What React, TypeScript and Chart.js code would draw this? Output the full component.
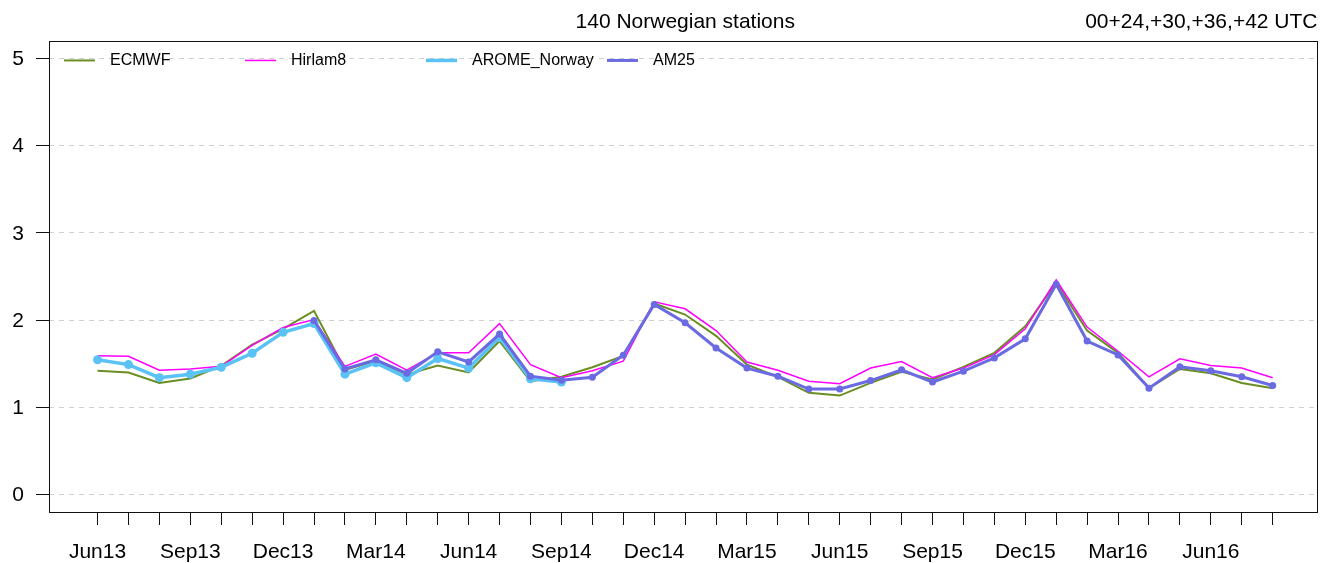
import React, { useEffect, useRef } from 'react';
import { Chart, registerables } from 'chart.js';

Chart.register(...registerables);

const months = [
  'Jun13', 'Jul13', 'Aug13', 'Sep13', 'Oct13', 'Nov13', 'Dec13', 'Jan14', 'Feb14', 'Mar14',
  'Apr14', 'May14', 'Jun14', 'Jul14', 'Aug14', 'Sep14', 'Oct14', 'Nov14', 'Dec14', 'Jan15',
  'Feb15', 'Mar15', 'Apr15', 'May15', 'Jun15', 'Jul15', 'Aug15', 'Sep15', 'Oct15', 'Nov15',
  'Dec15', 'Jan16', 'Feb16', 'Mar16', 'Apr16', 'May16', 'Jun16', 'Jul16', 'Aug16',
];
const labeledMonths = [
  'Jun13', 'Sep13', 'Dec13', 'Mar14', 'Jun14', 'Sep14', 'Dec14', 'Mar15', 'Jun15', 'Sep15',
  'Dec15', 'Mar16', 'Jun16',
];
const yTicks = [0, 1, 2, 3, 4, 5];

const ecmwf = [
  1.42, 1.40, 1.28, 1.33, 1.475, 1.72, 1.90, 2.107, 1.43, 1.53,
  1.376, 1.48, 1.40, 1.76, 1.30, 1.35, 1.46, 1.59, 2.19, 2.064,
  1.82, 1.49, 1.35, 1.166, 1.135, 1.28, 1.407, 1.32, 1.464, 1.625,
  1.93, 2.43, 1.88, 1.625, 1.22, 1.44, 1.39, 1.28, 1.22,
];
const hirlam8 = [
  1.59, 1.586, 1.425, 1.44, 1.47, 1.71, 1.915, 2.007, 1.47, 1.61,
  1.425, 1.625, 1.625, 1.96, 1.49, 1.34, 1.42, 1.53, 2.21, 2.13,
  1.88, 1.52, 1.425, 1.30, 1.27, 1.45, 1.525, 1.34, 1.45, 1.605,
  1.90, 2.46, 1.92, 1.643, 1.35, 1.556, 1.48, 1.45, 1.34,
];
const aromeNorway: (number | null)[] = [
  1.545, 1.49, 1.34, 1.38, 1.46, 1.62, 1.86, 1.96, 1.38, 1.51,
  1.34, 1.56, 1.45, 1.80, 1.327, 1.29, null, null, null, null,
  null, null, null, null, null, null, null, null, null, null,
  null, null, null, null, null, null, null, null, null,
];
const am25: (number | null)[] = [
  null, null, null, null, null, null, null, 1.995, 1.44, 1.545,
  1.39, 1.636, 1.52, 1.84, 1.357, 1.31, 1.345, 1.597, 2.18, 1.97,
  1.68, 1.45, 1.357, 1.21, 1.21, 1.307, 1.43, 1.29, 1.414, 1.567,
  1.785, 2.41, 1.76, 1.60, 1.22, 1.464, 1.42, 1.35, 1.25,
];

const seriesNames = ['ECMWF', 'Hirlam8', 'AROME_Norway', 'AM25'];
const seriesColors = ['#6B8E23', '#FF00FF', '#5BC2F5', '#6A6AE2'];
const titleText = '140 Norwegian stations';
const rightText = '00+24,+30,+36,+42 UTC';

const FONT = '"Liberation Sans", Arial, Helvetica, sans-serif';

const toPoints = (arr: (number | null)[]) =>
  arr.map((v, i) => ({ x: i, y: v })).filter((p) => p.y !== null) as { x: number; y: number }[];

const framePlugin = {
  id: 'frameAndText',
  afterDraw(chart: any) {
    const { ctx, chartArea } = chart;
    ctx.save();
    // box
    ctx.strokeStyle = '#111';
    ctx.lineWidth = 1;
    ctx.setLineDash([]);
    ctx.strokeRect(
      Math.round(chartArea.left) + 0.5,
      Math.round(chartArea.top) + 0.5,
      Math.round(chartArea.right - chartArea.left) - 1,
      Math.round(chartArea.bottom - chartArea.top)
    );
    // titles
    ctx.fillStyle = '#000';
    ctx.font = `21px ${FONT}`;
    ctx.textBaseline = 'middle';
    ctx.textAlign = 'center';
    ctx.fillText(titleText, (chartArea.left + chartArea.right) / 2 + 2, 22);
    ctx.textAlign = 'right';
    ctx.fillText(rightText, chartArea.right, 22);
    // legend
    const ly = chart.scales.y.getPixelForValue(5) + 2;
    const x0 = chartArea.left + 15;
    const colW = 181;
    ctx.font = `16px ${FONT}`;
    ctx.textAlign = 'left';
    const widths = [2, 1.5, 3.5, 3];
    seriesNames.forEach((name, i) => {
      const x = x0 + i * colW;
      ctx.strokeStyle = seriesColors[i];
      ctx.lineWidth = widths[i];
      ctx.beginPath();
      ctx.moveTo(x, ly);
      ctx.lineTo(x + 31, ly);
      ctx.stroke();
      ctx.fillStyle = '#000';
      ctx.fillText(name, x + 46, ly);
    });
    ctx.restore();
  },
};

export default function App() {
  const ref = useRef<HTMLCanvasElement | null>(null);

  useEffect(() => {
    document.body.style.margin = '0';
    const canvas = ref.current;
    if (!canvas) return;
    const chart = new Chart(canvas, {
      type: 'line',
      data: {
        datasets: [
          {
            label: seriesNames[0],
            data: toPoints(ecmwf),
            borderColor: seriesColors[0],
            backgroundColor: seriesColors[0],
            borderWidth: 2,
            pointRadius: 0,
            tension: 0,
            order: 4,
          },
          {
            label: seriesNames[1],
            data: toPoints(hirlam8),
            borderColor: seriesColors[1],
            backgroundColor: seriesColors[1],
            borderWidth: 1.5,
            pointRadius: 0,
            tension: 0,
            order: 3,
          },
          {
            label: seriesNames[2],
            data: toPoints(aromeNorway),
            borderColor: seriesColors[2],
            backgroundColor: seriesColors[2],
            borderWidth: 3.5,
            pointRadius: 4.5,
            pointBorderWidth: 0,
            pointBackgroundColor: seriesColors[2],
            tension: 0,
            order: 2,
          },
          {
            label: seriesNames[3],
            data: toPoints(am25),
            borderColor: seriesColors[3],
            backgroundColor: seriesColors[3],
            borderWidth: 3,
            pointRadius: 3.5,
            pointBorderWidth: 0,
            pointBackgroundColor: seriesColors[3],
            tension: 0,
            order: 1,
          },
        ],
      },
      options: {
        responsive: false,
        animation: false,
        devicePixelRatio: 1,
        layout: { padding: { top: 41, right: 4, left: 0, bottom: 0 } },
        plugins: {
          legend: { display: false },
          title: { display: false },
          tooltip: { enabled: false },
        },
        scales: {
          x: {
            type: 'linear',
            min: -1.57,
            max: 39.45,
            afterBuildTicks: (scale: any) => {
              scale.ticks = months.map((_, i) => ({ value: i }));
            },
            afterFit: (scale: any) => {
              scale.height = 51;
            },
            grid: {
              drawOnChartArea: false,
              drawTicks: true,
              tickLength: 13,
              tickColor: '#111',
              color: '#111',
            },
            border: { display: false },
            ticks: {
              autoSkip: false,
              maxRotation: 0,
              minRotation: 0,
              padding: 15,
              color: '#000',
              font: { family: FONT, size: 21 },
              callback: (value: any) => {
                const m = months[Math.round(Number(value))];
                return labeledMonths.includes(m) ? m : '';
              },
            },
          },
          y: {
            type: 'linear',
            min: -0.2,
            max: 5.2,
            afterBuildTicks: (scale: any) => {
              scale.ticks = yTicks.map((v) => ({ value: v }));
            },
            afterFit: (scale: any) => {
              scale.width = 49;
            },
            grid: {
              drawOnChartArea: true,
              drawTicks: true,
              tickLength: 13,
              tickColor: '#111',
              color: '#d0d0d0',
              lineWidth: 1,
            },
            border: { display: false, dash: [5, 5] },
            ticks: {
              padding: 12,
              labelOffset: 1,
              color: '#000',
              font: { family: FONT, size: 21 },
              callback: (value: any) => String(value),
            },
          },
        },
      },
      plugins: [framePlugin],
    } as any);
    return () => chart.destroy();
  }, []);

  return (
    <div style={{ width: 1322, height: 563 }}>
      <canvas ref={ref} width={1322} height={563} style={{ width: 1322, height: 563, display: 'block' }} />
    </div>
  );
}
